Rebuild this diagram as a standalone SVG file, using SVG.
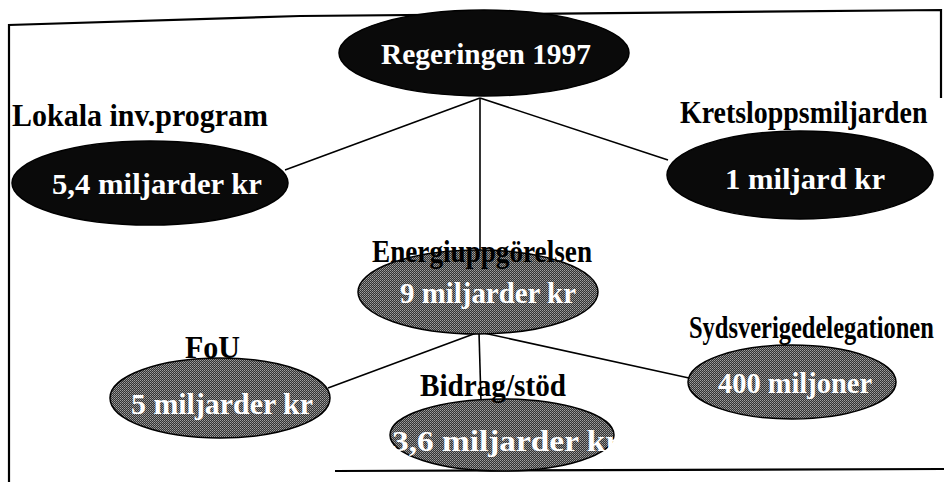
<svg xmlns="http://www.w3.org/2000/svg" width="944" height="482" viewBox="0 0 944 482">
<style>
.lbl{font-family:"Liberation Serif","Times New Roman",serif;font-weight:bold;font-size:31px;fill:#000}
.in{font-family:"Liberation Serif","Times New Roman",serif;font-weight:bold;font-size:30px;fill:#fff}
.dark{fill:#0a0a0a;stroke:#000;stroke-width:1.5}
.grey{fill:url(#dither);stroke:#000;stroke-width:1.5}
.edge{stroke:#000;stroke-width:1.6;fill:none}
.frame{stroke:#000;stroke-width:2.2;fill:none}
</style>
<defs>
<pattern id="dither" width="2" height="2" patternUnits="userSpaceOnUse">
<rect width="2" height="2" fill="#333"/>
<rect width="1" height="1" fill="#a0a0a0"/>
<rect x="1" y="1" width="1" height="1" fill="#808080"/>
</pattern>
</defs>
<rect width="944" height="482" fill="#fff"/>
<g id="frame">
<polyline class="frame" points="9,482 9,25 300,16 941,10 941,98"/>
<line class="frame" x1="335" y1="471" x2="944" y2="469"/>
</g>
<g id="connectors">
<line class="edge" x1="480" y1="98" x2="285" y2="170"/>
<line class="edge" x1="480" y1="98" x2="668" y2="160"/>
<line class="edge" x1="480" y1="98" x2="480" y2="255"/>
<line class="edge" x1="479" y1="332" x2="328" y2="388"/>
<line class="edge" x1="479" y1="332" x2="481" y2="402"/>
<line class="edge" x1="479" y1="332" x2="689" y2="378"/>
</g>
<g id="regeringen">
<ellipse class="dark" cx="484" cy="53" rx="145" ry="43"/>
<text class="in" x="486" y="64" text-anchor="middle" textLength="210" lengthAdjust="spacingAndGlyphs">Regeringen 1997</text>
</g>
<g id="lokala">
<text class="lbl" x="12" y="126" textLength="256" lengthAdjust="spacingAndGlyphs">Lokala inv.program</text>
<ellipse class="dark" cx="150" cy="183" rx="138" ry="42"/>
<text class="in" x="157" y="194" text-anchor="middle" textLength="210" lengthAdjust="spacingAndGlyphs">5,4 miljarder kr</text>
</g>
<g id="kretslopp">
<ellipse class="dark" cx="800" cy="175" rx="133" ry="44"/>
<text class="lbl" transform="translate(680,123) scale(0.9,1)" x="0" y="0">Kretsloppsmiljarden</text>
<text class="in" x="805" y="189" text-anchor="middle" textLength="160" lengthAdjust="spacingAndGlyphs">1 miljard kr</text>
</g>
<g id="energi">
<ellipse class="grey" cx="478" cy="292" rx="120" ry="42"/>
<text class="lbl" x="372" y="262" textLength="220" lengthAdjust="spacingAndGlyphs">Energiuppgörelsen</text>
<text class="in" x="488" y="303" text-anchor="middle" textLength="176" lengthAdjust="spacingAndGlyphs">9 miljarder kr</text>
</g>
<g id="fou">
<ellipse class="grey" cx="220" cy="398" rx="110" ry="40"/>
<text class="lbl" x="185" y="358" textLength="55" lengthAdjust="spacingAndGlyphs">FoU</text>
<text class="in" x="222" y="414" text-anchor="middle" textLength="182" lengthAdjust="spacingAndGlyphs">5 miljarder kr</text>
</g>
<g id="bidrag">
<ellipse class="grey" cx="502" cy="435" rx="112" ry="36"/>
<text class="lbl" x="420" y="396" textLength="146" lengthAdjust="spacingAndGlyphs">Bidrag/stöd</text>
<text class="in" x="506" y="451" text-anchor="middle" textLength="228" lengthAdjust="spacingAndGlyphs">3,6 miljarder kr</text>
</g>
<g id="sydsverige">
<ellipse class="grey" cx="792" cy="382" rx="104" ry="37"/>
<text class="lbl" transform="translate(689,338) scale(0.79,1)" x="0" y="0">Sydsverigedelegationen</text>
<text class="in" x="795" y="393" text-anchor="middle" textLength="154" lengthAdjust="spacingAndGlyphs">400 miljoner</text>
</g>
</svg>
